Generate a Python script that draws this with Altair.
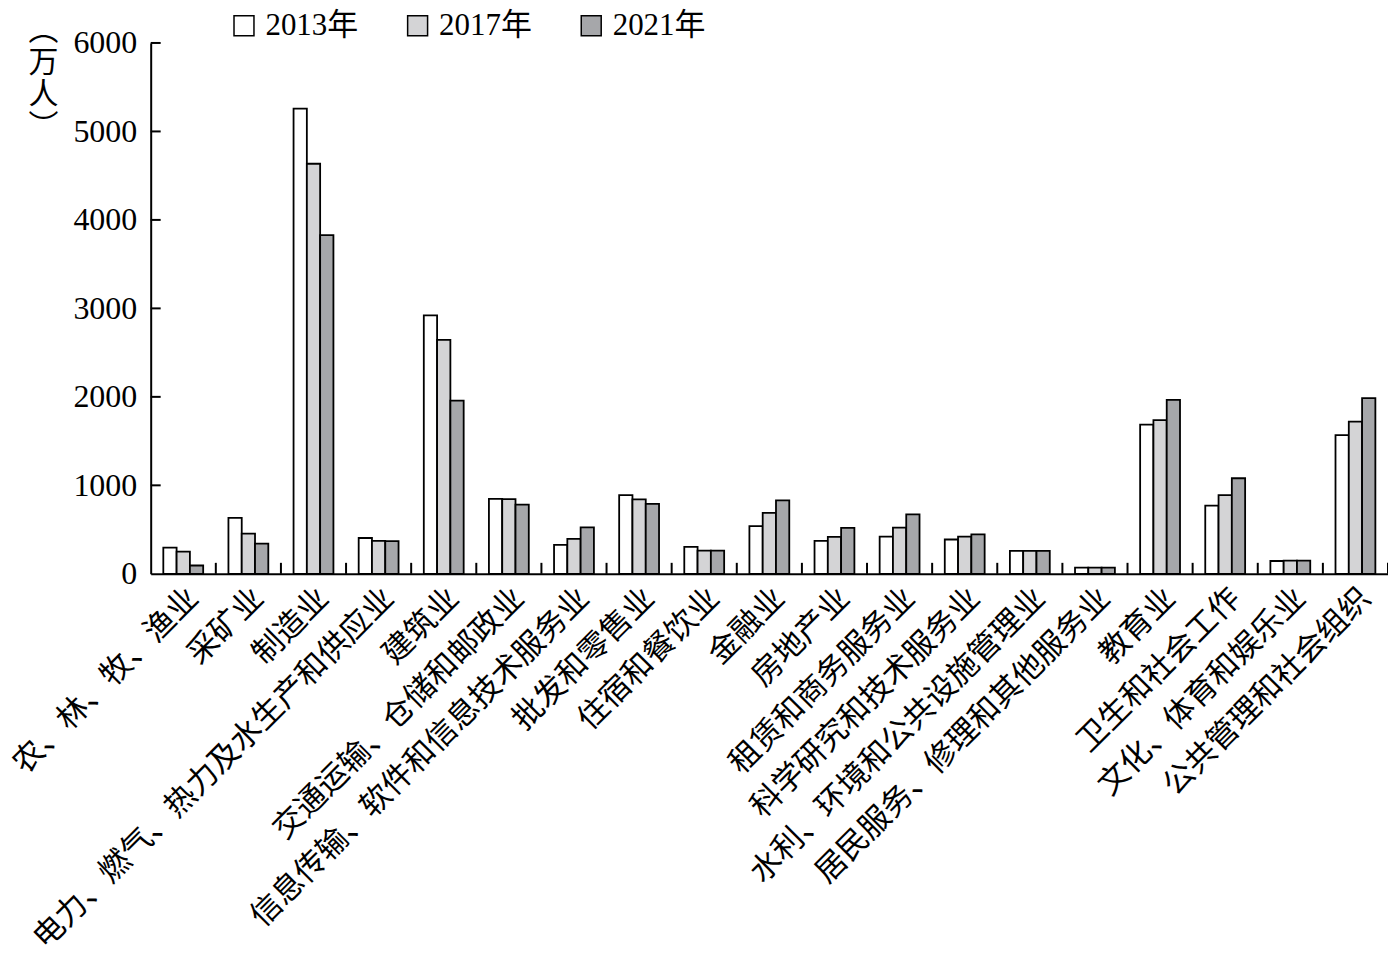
import altair as alt
import pandas as pd

categories = [
    "农、林、牧、渔业", "采矿业", "制造业", "电力、燃气、热力及水生产和供应业", "建筑业",
    "交通运输、仓储和邮政业", "信息传输、软件和信息技术服务业", "批发和零售业", "住宿和餐饮业",
    "金融业", "房地产业", "租赁和商务服务业", "科学研究和技术服务业", "水利、环境和公共设施管理业",
    "居民服务、修理和其他服务业", "教育业", "卫生和社会工作", "文化、体育和娱乐业", "公共管理和社会组织",
]
v2013 = [297, 632, 5258, 405, 2921, 846, 327, 889, 304, 538, 373, 421, 388, 260, 70, 1687, 770, 145, 1568]
v2017 = [250, 455, 4635, 372, 2644, 843, 395, 841, 262, 688, 417, 521, 420, 259, 70, 1736, 890, 148, 1721]
v2021 = [94, 342, 3828, 370, 1958, 782, 525, 790, 262, 830, 520, 672, 446, 259, 70, 1965, 1080, 148, 1985]
years = ["2013年", "2017年", "2021年"]
colors = ["#ffffff", "#d4d4d6", "#a6a7aa"]
y_values = [0, 1000, 2000, 3000, 4000, 5000, 6000]
y_ticks = [1000, 2000, 3000, 4000, 5000, 6000]

rows = []
for i, c in enumerate(categories):
    for yr, vals in zip(years, [v2013, v2017, v2021]):
        rows.append({"cat": c, "year": yr, "value": vals[i]})
df = pd.DataFrame(rows)

FONT = '"Liberation Serif", "Noto Sans CJK SC"'
W, H = 1240, 532

x_axis = alt.Axis(
    title=None, labelAngle=-45, labelAlign="right", labelBaseline="top",
    labelFontSize=31, labelFont=FONT, labelColor="black", labelPadding=9,
    labelLimit=1000, labelOverlap=False, ticks=False,
    domainColor="black", domainWidth=2,
)
y_axis = alt.Axis(
    title=["︵", "万", "人", "︶"], titleAngle=0, titleX=-108, titleY=-27,
    titleAlign="center", titleBaseline="top", titleFontSize=30,
    titleLineHeight=32, titleFont=FONT, titleColor="black", titleFontWeight="normal",
    values=y_values, format="d", ticks=False, grid=False,
    labelFontSize=32, labelFont=FONT, labelColor="black", labelPadding=14,
    domainColor="black", domainWidth=2,
)
x_scale = alt.Scale(paddingInner=0, paddingOuter=0)
y_scale = alt.Scale(domain=[0, 6000], nice=False)

bars = alt.Chart(df).mark_bar(stroke="black", strokeWidth=1.8).encode(
    x=alt.X("cat:N", sort=categories, scale=x_scale, axis=x_axis),
    xOffset=alt.XOffset("year:N", sort=years, scale=alt.Scale(paddingInner=0, paddingOuter=0.95)),
    y=alt.Y("value:Q", scale=y_scale, axis=y_axis),
    fill=alt.Fill(
        "year:N", sort=years, scale=alt.Scale(domain=years, range=colors),
        legend=alt.Legend(
            title=None, orient="none", legendX=78, legendY=-33, direction="horizontal",
            symbolType="square", symbolSize=400, symbolStrokeColor="black",
            symbolStrokeWidth=1.5, labelFont=FONT, labelFontSize=31, labelColor="black",
            labelOffset=6, columnPadding=44, padding=0, labelLimit=500,
        ),
    ),
)

xtick_df = pd.DataFrame({"cat": categories[1:]})
xticks = alt.Chart(xtick_df).mark_rule(color="black", strokeWidth=2).encode(
    x=alt.X("cat:N", sort=categories, bandPosition=0, scale=x_scale, axis=x_axis),
    y=alt.value(H),
    y2=alt.value(H - 11),
)

xend_df = pd.DataFrame({"cat": categories[-1:]})
xend = alt.Chart(xend_df).mark_rule(color="black", strokeWidth=2).encode(
    x=alt.X("cat:N", sort=categories, bandPosition=1, scale=x_scale, axis=x_axis),
    y=alt.value(H),
    y2=alt.value(H - 11),
)

ytick_df = pd.DataFrame({"value": y_ticks})
yticks = alt.Chart(ytick_df).mark_rule(color="black", strokeWidth=2).encode(
    y=alt.Y("value:Q", scale=y_scale, axis=y_axis),
    x=alt.value(0),
    x2=alt.value(10),
)

chart = alt.layer(bars, xticks, xend, yticks).properties(
    width=W, height=H,
    autosize=alt.AutoSizeParams(type="none"),
    padding={"left": 143, "top": 34, "right": 0, "bottom": 390},
).configure_view(stroke="transparent")

chart.save("out.html", embed_options={"renderer": "svg", "actions": False})
